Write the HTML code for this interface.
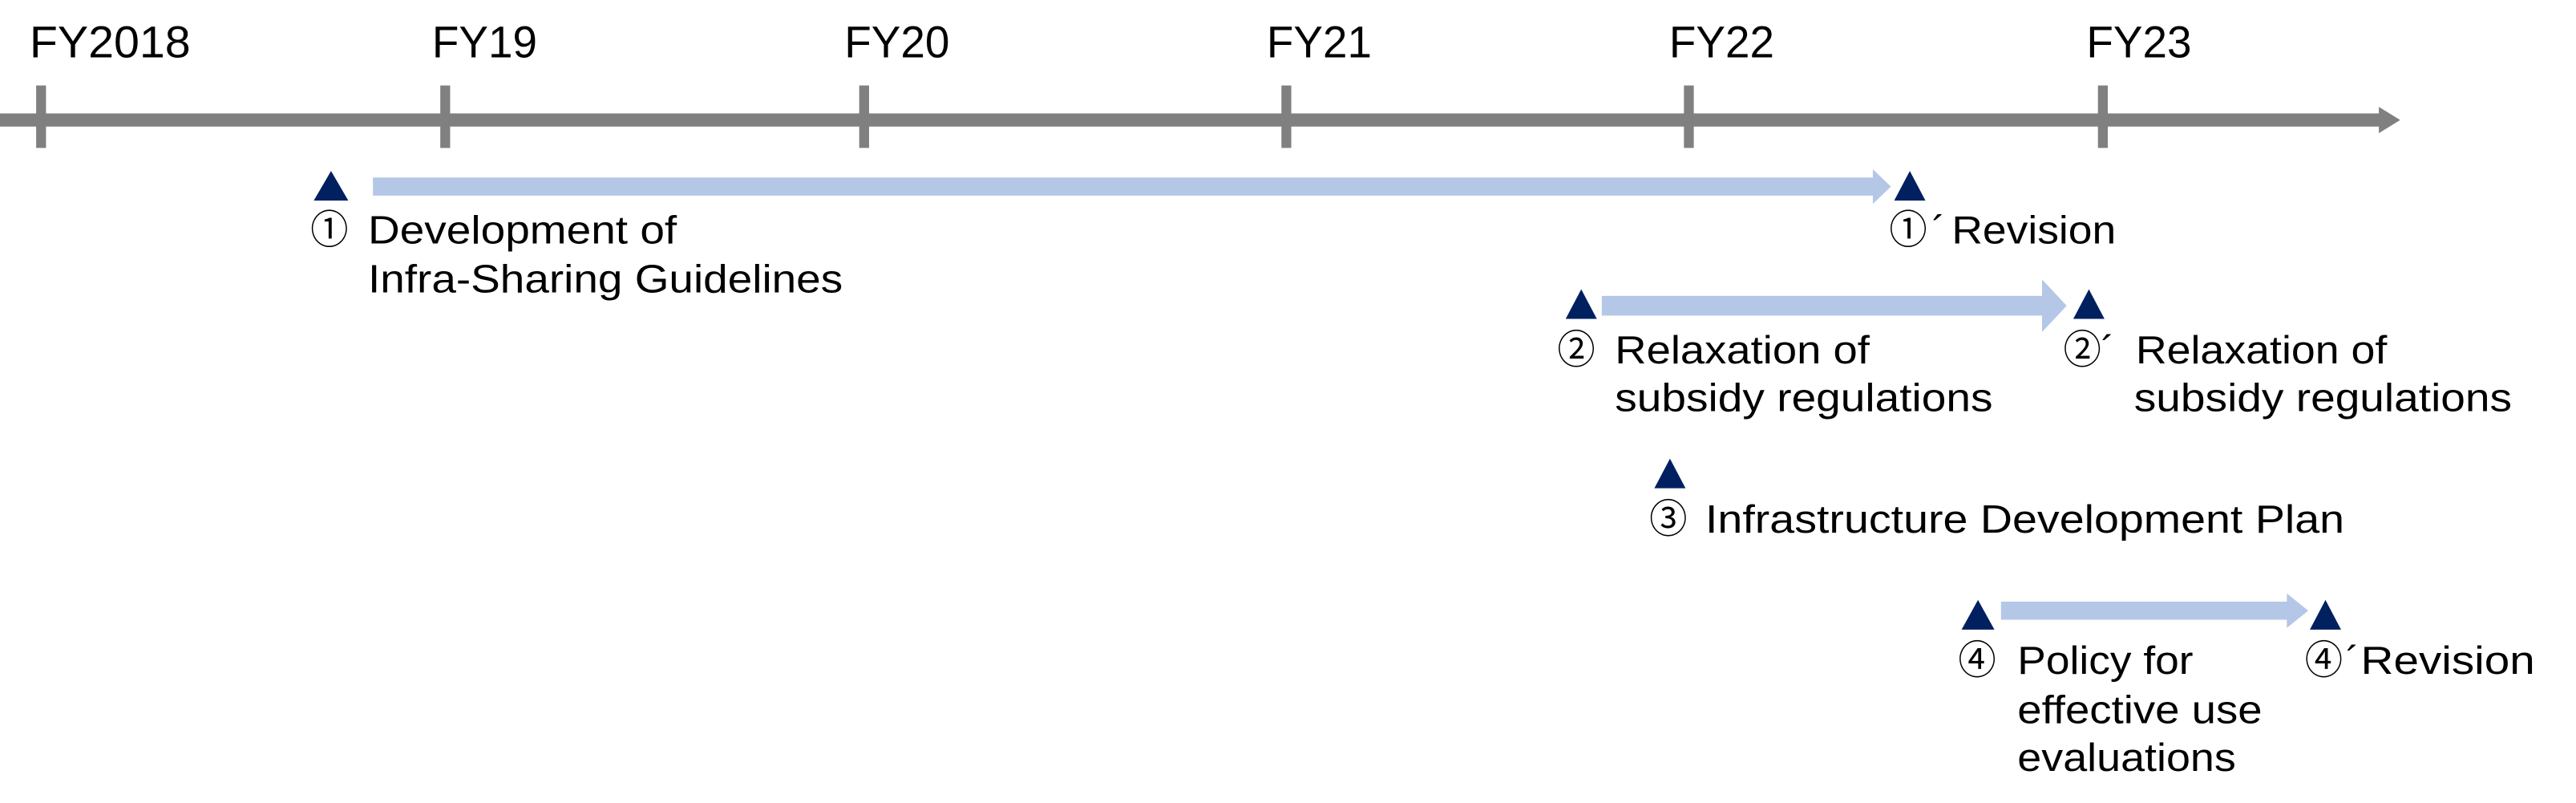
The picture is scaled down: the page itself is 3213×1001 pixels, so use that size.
<!DOCTYPE html>
<html><head><meta charset="utf-8"><style>
html,body{margin:0;padding:0;background:#fff;}
svg{display:block;}
text{font-family:"Liberation Sans","Noto Sans CJK JP",sans-serif;fill:#000;}
</style></head><body>
<svg width="3213" height="1001" viewBox="0 0 1568 488.5" preserveAspectRatio="none" xmlns="http://www.w3.org/2000/svg">
<rect x="0" y="69" width="1450" height="8" fill="#808080"/>
<polygon points="1448,65 1461,73 1448,81" fill="#808080"/>
<g fill="#808080">
<rect x="22" y="52" width="6" height="38"/>
<rect x="268" y="52" width="6" height="38"/>
<rect x="523" y="52" width="6" height="38"/>
<rect x="780" y="52" width="6" height="38"/>
<rect x="1025" y="52" width="6" height="38"/>
<rect x="1277" y="52" width="6" height="38"/>
</g>
<g font-size="27">
<text x="18" y="35" textLength="98" lengthAdjust="spacingAndGlyphs">FY2018</text>
<text x="263" y="35" textLength="64" lengthAdjust="spacingAndGlyphs">FY19</text>
<text x="514" y="35" textLength="64" lengthAdjust="spacingAndGlyphs">FY20</text>
<text x="771" y="35" textLength="64" lengthAdjust="spacingAndGlyphs">FY21</text>
<text x="1016" y="35" textLength="64" lengthAdjust="spacingAndGlyphs">FY22</text>
<text x="1270" y="35" textLength="64" lengthAdjust="spacingAndGlyphs">FY23</text>
</g>
<g fill="#B4C7E7">
<rect x="227" y="108" width="915" height="11"/>
<polygon points="1140,103 1151,113.5 1140,124"/>
<rect x="975" y="180" width="270" height="12"/>
<polygon points="1243,170 1258,186 1243,202"/>
<rect x="1218" y="366" width="176" height="11"/>
<polygon points="1392,361 1405,371.5 1392,382"/>
</g>
<g fill="#002060">
<polygon points="201.5,104 191,122 212,122"/>
<polygon points="1162.5,104 1153,122 1172,122"/>
<polygon points="962.5,176 953,194 972,194"/>
<polygon points="1271.5,176 1262,194 1281,194"/>
<polygon points="1016.5,279 1007,297 1026,297"/>
<polygon points="1204,365 1194,383 1214,383"/>
<polygon points="1415.5,365 1406,383 1425,383"/>
</g>
<g font-size="24">
<text x="189" y="148" textLength="23" lengthAdjust="spacingAndGlyphs">①</text>
<text x="224" y="148" textLength="188" lengthAdjust="spacingAndGlyphs">Development of</text>
<text x="224" y="178" textLength="289" lengthAdjust="spacingAndGlyphs">Infra-Sharing Guidelines</text>

<text x="1150" y="148" textLength="23" lengthAdjust="spacingAndGlyphs">①</text>
<text x="1176" y="148">´</text>
<text x="1188" y="148" textLength="100" lengthAdjust="spacingAndGlyphs">Revision</text>

<text x="948" y="221" textLength="23" lengthAdjust="spacingAndGlyphs">②</text>
<text x="983" y="221" textLength="155" lengthAdjust="spacingAndGlyphs">Relaxation of</text>
<text x="983" y="250" textLength="230" lengthAdjust="spacingAndGlyphs">subsidy regulations</text>

<text x="1256" y="221" textLength="23" lengthAdjust="spacingAndGlyphs">②</text>
<text x="1279" y="221">´</text>
<text x="1300" y="221" textLength="153" lengthAdjust="spacingAndGlyphs">Relaxation of</text>
<text x="1299" y="250" textLength="230" lengthAdjust="spacingAndGlyphs">subsidy regulations</text>

<text x="1004" y="324" textLength="23" lengthAdjust="spacingAndGlyphs">③</text>
<text x="1038" y="324" textLength="389" lengthAdjust="spacingAndGlyphs">Infrastructure Development Plan</text>

<text x="1192" y="410" textLength="23" lengthAdjust="spacingAndGlyphs">④</text>
<text x="1228" y="410" textLength="107" lengthAdjust="spacingAndGlyphs">Policy for</text>
<text x="1228" y="440" textLength="149" lengthAdjust="spacingAndGlyphs">effective use</text>
<text x="1228" y="469" textLength="133" lengthAdjust="spacingAndGlyphs">evaluations</text>

<text x="1403" y="410" textLength="23" lengthAdjust="spacingAndGlyphs">④</text>
<text x="1428" y="410">´</text>
<text x="1437" y="410" textLength="106" lengthAdjust="spacingAndGlyphs">Revision</text>
</g>
</svg>
</body></html>
